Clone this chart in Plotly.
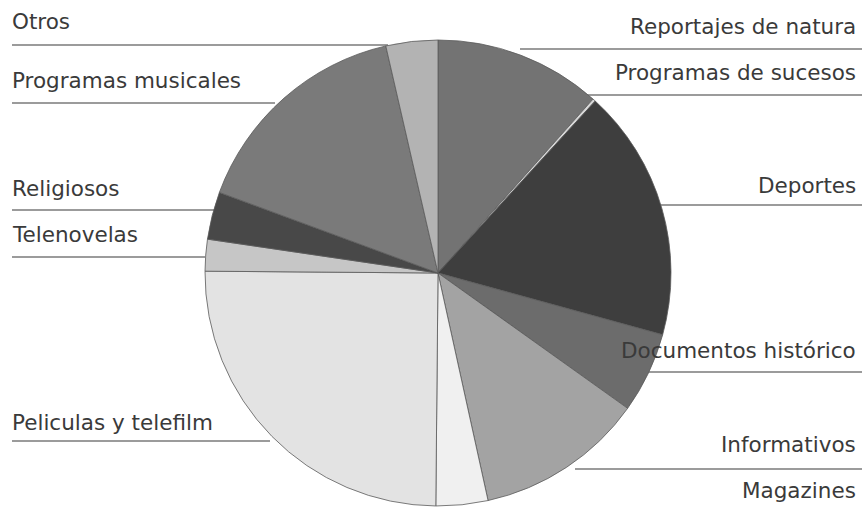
import plotly.graph_objects as go

categories = ["Reportajes de natura", "Programas de sucesos", "Deportes",
              "Documentos histórico", "Informativos", "Magazines",
              "Peliculas y telefilm", "Telenovelas", "Religiosos",
              "Programas musicales", "Otros"]
values = [11.6, 0.2, 17.5, 5.6, 11.7, 3.6, 25.0, 2.2, 3.3, 15.8, 3.6]
colors = ["#737373", "#d8d8d8", "#3e3e3e", "#6c6c6c", "#a3a3a3", "#f0f0f0",
          "#e3e3e3", "#c6c6c6", "#484848", "#7a7a7a", "#b3b3b3"]

# label placement: (text, text center y px, line y px, line inner x px)
right_labels = [("Reportajes de natura", 26, 49, 520),
                ("Programas de sucesos", 73, 95, 585),
                ("Deportes", 185, 205, 660),
                ("Documentos histórico", 350, 372, 640),
                ("Informativos", 444, 469, 575),
                ("Magazines", 490, None, None)]
left_labels = [("Otros", 22, 45, 388),
               ("Programas musicales", 80, 103, 275),
               ("Religiosos", 188, 210, 215),
               ("Telenovelas", 235, 257, 205),
               ("Peliculas y telefilm", 422, 441, 270)]

W, H = 863, 510

fig = go.Figure(go.Pie(
    labels=categories, values=values, sort=False, direction="clockwise",
    rotation=0, textinfo="none", hoverinfo="label+percent",
    marker=dict(colors=colors, line=dict(color="#5a5a5a", width=0.8)),
    domain=dict(x=[205 / W, 671 / W], y=[4 / H, 470 / H]),
    showlegend=False,
))

font = dict(family="DejaVu Sans", size=21.5, color="#3a3a3a")
annotations = []
shapes = []
for text, ty, ly, lx in right_labels:
    annotations.append(dict(text=text, x=858 / W, y=1 - ty / H, xref="paper", yref="paper",
                            xanchor="right", yanchor="middle", showarrow=False, font=font))
    if ly is not None:
        shapes.append(dict(type="line", xref="paper", yref="paper", layer="below",
                           x0=lx / W, x1=862 / W, y0=1 - ly / H, y1=1 - ly / H,
                           line=dict(color="#7a7a7a", width=1.5)))
for text, ty, ly, lx in left_labels:
    annotations.append(dict(text=text, x=10 / W, y=1 - ty / H, xref="paper", yref="paper",
                            xanchor="left", yanchor="middle", showarrow=False, font=font))
    shapes.append(dict(type="line", xref="paper", yref="paper", layer="below",
                       x0=12 / W, x1=lx / W, y0=1 - ly / H, y1=1 - ly / H,
                       line=dict(color="#7a7a7a", width=1.5)))

fig.update_layout(width=W, height=H, margin=dict(l=0, r=0, t=0, b=0),
                  paper_bgcolor="white", plot_bgcolor="white",
                  annotations=annotations, shapes=shapes)

fig.write_html("out.html", config={"displayModeBar": False},
               post_script="document.body.style.margin='0';document.body.style.overflow='hidden';")
